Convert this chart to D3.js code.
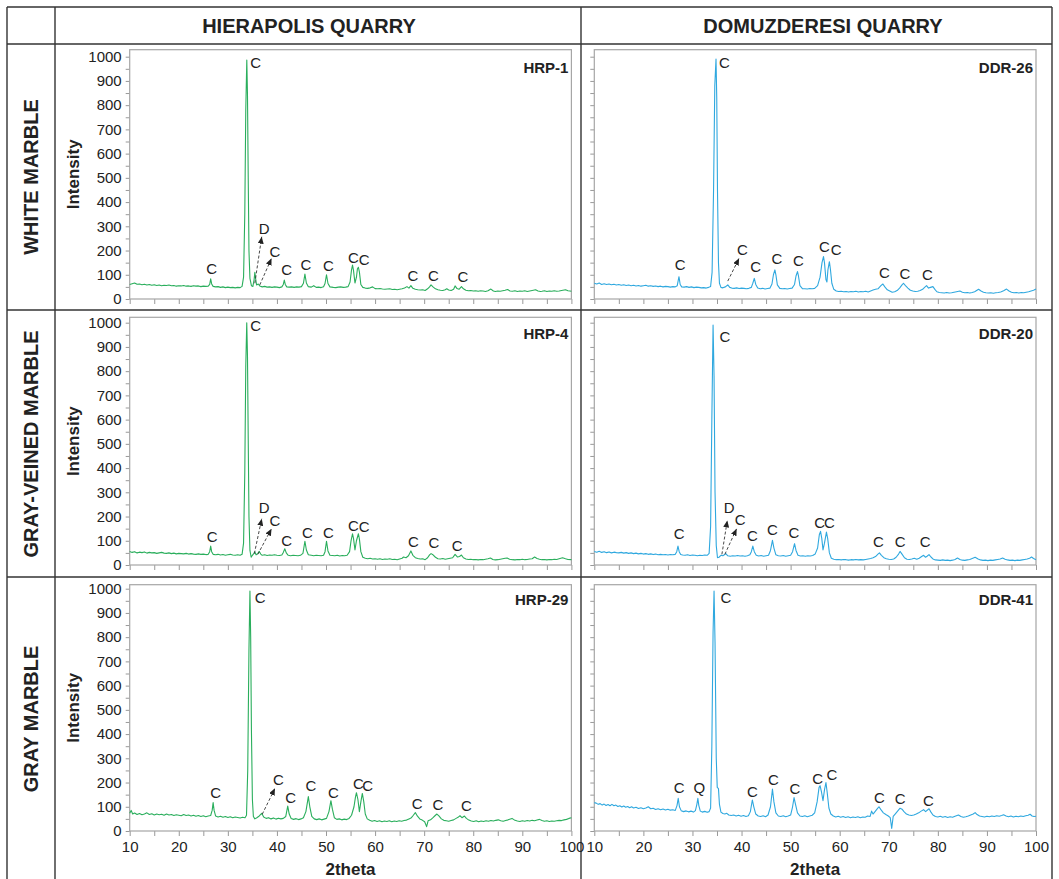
<!DOCTYPE html>
<html><head><meta charset="utf-8">
<script src="https://cdn.jsdelivr.net/npm/d3@7"></script>
<style>
html,body{margin:0;padding:0;background:#fff;}
svg{display:block;font-family:"Liberation Sans",Arial,sans-serif;}
</style></head>
<body><svg id="chart" width="1059" height="879"></svg>
<script>
// ---------- DATA ----------
const quarries = ["HIERAPOLIS QUARRY", "DOMUZDERESI QUARRY"];
const marbleTypes = ["WHITE MARBLE", "GRAY-VEINED MARBLE", "GRAY MARBLE"];
const sampleIds = [["HRP-1","DDR-26"],["HRP-4","DDR-20"],["HRP-29","DDR-41"]];
const yTicks = [0,50,100,150,200,250,300,350,400,450,500,550,600,650,700,750,800,850,900,950,1000];
const xTicks = [10,15,20,25,30,35,40,45,50,55,60,65,70,75,80,85,90,95,100];
const xTitle = "2theta", yTitle = "Intensity";

const hrp1 = [[10,60],[10.5,63],[11,66],[11.5,61],[12,62],[12.5,59],[13,61],[13.5,58],[14,60],[14.5,57],[15,59],[15.5,56],[16,58],[16.5,55],[17,57],[17.5,56],[18,58],[18.5,55],[19,56],[19.5,53],[20,55],[20.5,54],[21,56],[21.5,53],[22,54],[22.5,52],[23,55],[23.5,53],[24,54],[24.5,51],[25,53],[25.5,52],[26,53],[26.3,60],[26.5,83],[26.7,62],[27,52],[27.5,50],[28,51],[28.5,48],[29,50],[29.5,47],[30,49],[30.5,47],[31,48],[31.5,46],[32,48],[32.5,47],[32.9,52],[33.2,90],[33.45,350],[33.65,780],[33.86,986],[34.0,840],[34.15,500],[34.3,200],[34.5,85],[34.8,55],[35.1,52],[35.35,80],[35.5,110],[35.65,85],[35.85,58],[36.2,62],[36.5,54],[37,50],[37.5,52],[38,49],[38.5,50],[39,48],[39.5,50],[40,49],[40.5,47],[41,50],[41.3,60],[41.5,78],[41.7,60],[42,50],[42.5,49],[43,50],[43.5,48],[44,50],[44.5,49],[45,51],[45.4,65],[45.7,103],[46.0,66],[46.4,51],[47,49],[47.5,55],[48,48],[48.5,49],[49,47],[49.5,51],[49.8,64],[50.1,100],[50.4,64],[50.8,50],[51.5,48],[52,47],[52.5,49],[53,50],[53.5,48],[54,49],[54.5,51],[54.9,70],[55.2,120],[55.4,140],[55.6,118],[55.9,66],[56.2,90],[56.4,125],[56.6,131],[56.8,112],[57.1,60],[57.5,48],[58,45],[58.5,44],[59,46],[59.5,50],[60,43],[60.5,42],[61,43],[61.5,41],[62,40],[62.5,41],[63,42],[63.5,39],[64,40],[64.5,38],[65,40],[65.5,42],[66,45],[66.5,51],[66.9,45],[67.3,55],[67.7,44],[68.2,40],[68.7,38],[69.2,37],[69.7,38],[70.2,35],[70.7,42],[71.1,50],[71.4,58],[71.8,50],[72.3,42],[72.8,38],[73.3,36],[73.8,35],[74.3,38],[74.6,42],[75,37],[75.5,35],[76,40],[76.3,54],[76.7,43],[77.1,40],[77.6,51],[78,42],[78.5,36],[79,34],[79.5,35],[80,33],[80.5,34],[81,32],[81.5,34],[82,33],[82.5,31],[83,34],[83.6,41],[84.1,33],[84.5,31],[85,33],[85.5,32],[86,34],[86.5,36],[87,39],[87.5,33],[88,32],[88.5,34],[89,31],[89.5,33],[90,32],[90.5,34],[91,31],[91.5,33],[92,35],[92.7,38],[93.2,33],[93.7,31],[94,32],[94.5,34],[95,31],[95.5,33],[96,32],[96.5,34],[97,32],[97.5,33],[98,35],[98.8,38],[99.3,34],[99.7,33],[100,32]];

const hrp4 = [[10,56],[10.5,52],[11,55],[11.5,50],[12,53],[12.5,51],[13,54],[13.5,49],[14,52],[14.5,50],[15,51],[15.5,48],[16,50],[16.5,52],[17,49],[17.5,48],[18,50],[18.5,47],[19,49],[19.5,46],[20,48],[20.5,47],[21,46],[21.5,48],[22,45],[22.5,47],[23,45],[23.5,44],[24,46],[24.5,44],[25,45],[25.5,43],[26,44],[26.3,55],[26.5,78],[26.7,55],[27,44],[27.5,42],[28,44],[28.5,41],[29,43],[29.5,40],[30,42],[30.5,44],[31,41],[31.5,40],[32,42],[32.5,40],[32.9,44],[33.2,90],[33.45,380],[33.65,820],[33.85,1000],[34.0,860],[34.15,520],[34.3,200],[34.5,60],[34.75,32],[35.0,40],[35.3,48],[35.5,54],[35.75,42],[36.1,47],[36.4,56],[36.7,45],[37,40],[37.5,42],[38,39],[38.5,41],[39,40],[39.5,42],[40,40],[40.5,39],[41,41],[41.3,52],[41.6,67],[41.9,50],[42.3,40],[42.8,38],[43.3,40],[43.8,39],[44.3,38],[44.8,40],[45.3,48],[45.7,98],[46.0,62],[46.4,42],[47,40],[47.5,38],[48,40],[48.5,39],[49,38],[49.5,40],[49.8,55],[50.1,98],[50.4,58],[50.8,40],[51.3,39],[51.8,38],[52.3,40],[52.8,37],[53.3,39],[53.8,38],[54.3,40],[54.8,55],[55.1,100],[55.4,129],[55.6,110],[55.9,62],[56.2,100],[56.6,129],[56.8,108],[57.1,55],[57.5,32],[58,28],[58.5,26],[59,28],[59.5,25],[60,26],[60.5,24],[61,26],[61.5,23],[62,25],[62.5,24],[63,26],[63.5,23],[64,24],[64.5,22],[65,25],[65.5,28],[65.8,33],[66.3,30],[66.8,38],[67.3,58],[67.7,40],[68.2,30],[68.7,27],[69.2,25],[69.7,26],[70.2,22],[70.7,30],[71.1,42],[71.4,47],[71.8,42],[72.3,32],[72.8,26],[73.3,25],[73.8,27],[74.3,24],[74.8,26],[75.3,28],[75.8,30],[76.3,44],[76.8,33],[77.2,35],[77.6,41],[78,30],[78.5,25],[79,23],[79.5,24],[80,22],[80.5,23],[81,21],[81.5,23],[82,22],[82.5,24],[83,26],[83.5,29],[84,23],[84.5,21],[85,22],[85.5,24],[86,26],[86.5,28],[86.9,29],[87.4,24],[88,22],[88.5,21],[89,23],[89.5,22],[90,24],[90.5,22],[91,23],[91.5,25],[92,26],[92.5,33],[93,27],[93.5,24],[94,22],[94.5,23],[95,21],[95.5,23],[96,22],[96.5,24],[97,23],[97.5,26],[98.2,30],[98.8,26],[99.3,23],[100,22]];

const hrp29 = [[10,73],[10.3,85],[10.6,70],[11,74],[11.5,68],[12,72],[12.5,67],[13,70],[13.5,75],[14,68],[14.5,71],[15,66],[15.5,70],[16,67],[16.5,69],[17,65],[17.5,70],[18,66],[18.5,68],[19,64],[19.5,67],[20,65],[20.5,63],[21,68],[21.5,64],[22,66],[22.5,62],[23,65],[23.5,61],[24,64],[24.5,60],[25,63],[25.5,59],[26,62],[26.5,64],[26.8,85],[27.0,117],[27.2,85],[27.5,62],[28,58],[28.5,61],[29,57],[29.5,60],[30,56],[30.5,59],[31,55],[31.5,58],[32,56],[32.5,54],[33,57],[33.5,55],[33.8,65],[34.05,250],[34.3,750],[34.5,990],[34.65,800],[34.8,420],[35.0,130],[35.2,60],[35.5,50],[35.9,55],[36.4,62],[36.9,73],[37.3,58],[37.8,52],[38.3,55],[38.8,50],[39.3,54],[39.8,49],[40.3,53],[40.8,50],[41.3,52],[41.8,60],[42.2,103],[42.5,70],[42.9,52],[43.4,48],[43.9,51],[44.4,47],[44.9,50],[45.4,55],[45.9,80],[46.4,142],[46.7,100],[47.1,60],[47.6,50],[48.1,47],[48.6,50],[49.1,46],[49.6,49],[50.1,52],[50.6,80],[51.0,125],[51.3,90],[51.7,55],[52.2,48],[52.7,50],[53.2,46],[53.7,49],[54.2,47],[54.7,52],[55.2,65],[55.7,100],[56.0,140],[56.2,158],[56.5,130],[56.8,80],[57.1,120],[57.4,155],[57.7,120],[58,70],[58.4,50],[58.9,44],[59.4,40],[59.9,43],[60.4,39],[60.9,42],[61.4,38],[61.9,41],[62.4,39],[62.9,42],[63.4,38],[63.9,41],[64.4,39],[64.9,42],[65.4,40],[65.9,43],[66.4,45],[66.9,50],[67.4,55],[67.8,65],[68.2,76],[68.6,62],[69.1,50],[69.6,45],[70.1,38],[70.5,18],[70.8,42],[71.3,46],[71.8,55],[72.3,65],[72.6,70],[73.0,62],[73.5,50],[74,44],[74.5,42],[75,40],[75.5,43],[76,46],[76.5,52],[77.0,58],[77.3,63],[77.7,55],[78.2,62],[78.6,52],[79.1,45],[79.6,41],[80.1,39],[80.6,42],[81.1,38],[81.6,41],[82.1,39],[82.6,42],[83.1,40],[83.6,43],[84.1,41],[84.6,44],[85.1,46],[85.6,42],[86.1,40],[86.6,43],[87.1,46],[87.9,52],[88.5,44],[89,41],[89.5,39],[90,42],[90.5,40],[91,43],[91.5,41],[92,44],[92.5,42],[93,45],[93.5,48],[94,43],[94.5,40],[95,42],[95.5,39],[96,41],[96.5,40],[97,42],[97.5,44],[98,43],[98.5,46],[99,48],[99.5,52],[100,55]];

const ddr26 = [[10,65],[10.5,62],[11,66],[11.5,60],[12,63],[12.5,60],[13,62],[13.5,59],[14,61],[14.5,58],[15,60],[15.5,57],[16,59],[16.5,56],[17,58],[17.5,55],[18,57],[18.5,54],[19,56],[19.5,53],[20,55],[20.5,57],[21,53],[21.5,55],[22,52],[22.5,54],[23,51],[23.5,53],[24,50],[24.5,52],[25,51],[25.5,49],[26,51],[26.5,50],[26.9,55],[27.25,92],[27.5,60],[27.8,50],[28.3,49],[28.8,51],[29.3,48],[29.8,50],[30.3,47],[30.8,49],[31.3,48],[31.8,46],[32.3,47],[32.8,45],[33.3,48],[33.7,52],[34.0,110],[34.3,450],[34.55,880],[34.8,990],[34.95,830],[35.1,450],[35.3,150],[35.5,65],[35.8,48],[36.2,46],[36.7,50],[37.2,58],[37.6,48],[38,45],[38.5,44],[39,46],[39.5,43],[40,45],[40.5,44],[41,42],[41.5,44],[42,48],[42.3,65],[42.6,85],[42.9,60],[43.3,45],[43.8,42],[44.3,44],[44.8,41],[45.3,43],[45.8,45],[46.2,62],[46.5,100],[46.8,120],[47.0,100],[47.3,58],[47.8,44],[48.3,42],[48.8,43],[49.3,41],[49.8,43],[50.3,45],[50.8,60],[51.1,95],[51.4,113],[51.6,95],[51.9,55],[52.4,43],[52.9,42],[53.4,41],[53.9,43],[54.4,42],[54.9,44],[55.5,55],[56.0,90],[56.4,150],[56.7,175],[56.9,150],[57.2,80],[57.4,70],[57.6,120],[57.9,154],[58.1,125],[58.4,65],[58.8,40],[59.3,33],[59.8,31],[60.3,32],[60.8,30],[61.3,31],[61.8,29],[62.3,31],[62.8,30],[63.3,32],[63.8,29],[64.3,31],[64.8,30],[65.3,32],[65.8,29],[66.3,33],[66.8,37],[67.3,40],[67.8,42],[68.4,55],[68.8,62],[69.2,50],[69.7,38],[70.2,33],[70.7,28],[71.2,30],[71.7,35],[72.2,45],[72.7,58],[73.0,65],[73.4,55],[73.9,45],[74.4,36],[74.9,33],[75.4,31],[75.9,32],[76.4,35],[76.9,40],[77.3,48],[77.7,55],[78.1,45],[78.5,48],[79.0,51],[79.4,40],[79.8,30],[80.3,27],[80.8,26],[81.3,25],[81.8,27],[82.3,25],[82.8,26],[83.3,28],[83.8,30],[84.5,33],[85,28],[85.5,26],[86,27],[86.5,25],[87,27],[87.5,30],[88.3,40],[88.8,33],[89.3,28],[89.8,26],[90.3,25],[90.8,26],[91.3,24],[91.8,26],[92.3,27],[92.8,29],[93.4,34],[94,41],[94.5,33],[95,28],[95.5,26],[96,27],[96.5,25],[97,27],[97.5,26],[98,28],[98.5,30],[99,33],[99.5,36],[100,41]];

const ddr20 = [[10,56],[10.5,53],[11,57],[11.5,52],[12,55],[12.5,51],[13,54],[13.5,50],[14,53],[14.5,51],[15,50],[15.5,52],[16,49],[16.5,51],[17,48],[17.5,50],[18,47],[18.5,49],[19,46],[19.5,48],[20,45],[20.5,47],[21,44],[21.5,46],[22,43],[22.5,45],[23,42],[23.5,44],[24,42],[24.5,43],[25,41],[25.5,43],[26,42],[26.5,44],[26.8,55],[27.05,78],[27.3,55],[27.6,43],[28,41],[28.5,40],[29,42],[29.5,39],[30,41],[30.5,40],[31,38],[31.5,40],[32,39],[32.5,41],[33,40],[33.4,48],[33.7,160],[33.95,600],[34.2,990],[34.4,780],[34.6,300],[34.85,80],[35.1,30],[35.4,32],[35.8,40],[36.2,38],[36.5,42],[36.8,47],[37.2,38],[37.7,36],[38.2,38],[38.7,37],[39.2,39],[39.7,37],[40.2,38],[40.7,36],[41.2,38],[41.7,42],[42.0,55],[42.3,78],[42.6,55],[43,40],[43.5,37],[44,39],[44.5,36],[45,38],[45.5,40],[45.9,60],[46.3,102],[46.6,70],[47,42],[47.5,38],[48,37],[48.5,39],[49,36],[49.5,38],[50,40],[50.4,55],[50.8,88],[51.1,60],[51.5,40],[52,37],[52.5,38],[53,36],[53.5,38],[54,37],[54.5,39],[55,45],[55.5,70],[55.85,125],[56.1,139],[56.35,110],[56.6,62],[56.9,90],[57.3,136],[57.55,110],[57.9,50],[58.3,28],[58.8,24],[59.3,22],[59.8,23],[60.3,21],[60.8,23],[61.3,22],[61.8,20],[62.3,22],[62.8,21],[63.3,23],[63.8,21],[64.3,22],[64.8,21],[65.3,23],[65.8,25],[66.3,27],[66.8,30],[67.3,35],[67.8,45],[68.1,50],[68.5,40],[69,30],[69.5,26],[70,24],[70.5,23],[71,25],[71.5,32],[72,45],[72.3,56],[72.7,45],[73.2,30],[73.7,24],[74.2,23],[74.7,25],[75.2,28],[75.7,24],[76.2,28],[76.7,35],[77.1,40],[77.5,32],[77.8,36],[78.2,43],[78.6,33],[79,25],[79.5,21],[80,20],[80.5,19],[81,21],[81.5,19],[82,20],[82.5,18],[83,20],[83.5,23],[84,29],[84.5,23],[85,20],[85.5,19],[86,21],[86.5,23],[87,27],[87.6,32],[88.2,25],[88.7,21],[89.2,19],[89.7,20],[90.2,18],[90.7,20],[91.2,19],[91.7,21],[92.2,23],[92.7,25],[93.2,29],[93.7,24],[94.2,21],[94.7,19],[95.2,20],[95.7,18],[96.2,20],[96.7,19],[97.2,21],[97.7,23],[98.2,25],[98.7,28],[99.1,33],[99.5,27],[100,22]];

const ddr41 = [[10,117],[10.4,115],[10.8,110],[11.2,113],[11.6,107],[12,111],[12.4,105],[12.8,109],[13.2,104],[13.6,110],[14,104],[14.4,107],[14.8,101],[15.2,104],[15.6,99],[16,103],[16.4,98],[16.8,101],[17.2,96],[17.6,100],[18,95],[18.5,98],[19,93],[19.5,96],[20,92],[20.5,95],[21,100],[21.5,92],[22,94],[22.5,89],[23,92],[23.5,88],[24,91],[24.5,87],[25,90],[25.5,86],[26,88],[26.5,85],[26.85,105],[27.1,135],[27.35,100],[27.7,84],[28.2,80],[28.7,83],[29.2,79],[29.7,82],[30.2,78],[30.6,84],[30.9,110],[31.1,135],[31.3,105],[31.6,82],[32,78],[32.5,81],[33,77],[33.4,80],[33.7,95],[33.95,350],[34.2,820],[34.4,990],[34.6,780],[34.85,300],[35.05,180],[35.3,175],[35.5,110],[35.8,78],[36.2,72],[36.6,70],[37,73],[37.4,66],[37.9,64],[38.4,66],[38.9,62],[39.4,65],[39.9,61],[40.4,64],[40.9,60],[41.4,63],[41.8,80],[42.2,128],[42.5,100],[42.9,70],[43.4,62],[43.9,60],[44.4,63],[44.9,59],[45.4,66],[45.9,100],[46.3,173],[46.6,120],[47,75],[47.5,62],[48,60],[48.5,63],[49,59],[49.5,62],[50,66],[50.4,100],[50.7,138],[51,110],[51.4,75],[51.9,62],[52.4,60],[52.9,63],[53.4,59],[53.9,62],[54.4,65],[54.9,75],[55.4,120],[55.8,180],[56.0,187],[56.3,160],[56.6,125],[56.9,170],[57.2,200],[57.45,160],[57.8,95],[58.2,70],[58.7,62],[59.2,58],[59.7,61],[60.2,57],[60.7,60],[61.2,56],[61.7,59],[62.2,55],[62.7,58],[63.2,56],[63.7,59],[64.2,55],[64.7,58],[65.2,57],[65.7,62],[66.2,60],[66.5,82],[66.8,70],[67.2,80],[67.6,90],[68.0,100],[68.4,88],[68.9,75],[69.4,68],[69.9,62],[70.3,55],[70.6,11],[70.9,60],[71.3,70],[71.8,82],[72.3,94],[72.7,90],[73.1,80],[73.6,70],[74.1,66],[74.6,64],[75.1,66],[75.6,70],[76.1,75],[76.6,82],[77.1,88],[77.5,80],[78.2,92],[78.6,78],[79,66],[79.5,60],[80,58],[80.5,61],[81,57],[81.5,60],[82,56],[82.5,59],[83,57],[83.5,61],[84.2,66],[84.7,60],[85.2,57],[85.7,59],[86.2,62],[86.7,66],[87.2,70],[87.6,76],[88,68],[88.5,62],[89,60],[89.5,58],[90,61],[90.5,59],[91,62],[91.5,60],[92,63],[92.5,61],[93,64],[93.4,67],[93.9,62],[94.4,59],[94.9,62],[95.4,58],[95.9,61],[96.4,59],[96.9,62],[97.4,60],[97.9,63],[98.4,65],[98.8,69],[99.2,62],[99.6,60],[100,61]];

// peak labels: [2theta, intensity, text]
const hrp1Labels = [[26.7,127,"C"],[35.65,977,"C"],[37.4,292,"D"],[39.6,195,"C"],[42.0,120,"C"],[45.9,143,"C"],[50.5,138,"C"],[55.6,171,"C"],[57.8,161,"C"],[67.7,99,"C"],[71.9,96,"C"],[77.9,92,"C"]];
const hrp4Labels = [[26.8,116,"C"],[35.65,988,"C"],[37.4,239,"D"],[39.6,184,"C"],[42.0,102,"C"],[46.2,136,"C"],[50.5,136,"C"],[55.6,164,"C"],[57.8,160,"C"],[67.8,98,"C"],[72.0,92,"C"],[76.7,81,"C"]];
const hrp29Labels = [[27.5,158,"C"],[36.6,963,"C"],[40.3,213,"C"],[42.8,139,"C"],[46.9,186,"C"],[51.5,158,"C"],[56.6,197,"C"],[58.5,186,"C"],[68.6,114,"C"],[72.8,110,"C"],[78.6,105,"C"]];
const ddr26Labels = [[27.5,144,"C"],[36.5,977,"C"],[40.2,205,"C"],[42.9,133,"C"],[47.2,168,"C"],[51.6,157,"C"],[56.9,216,"C"],[59.3,206,"C"],[69.1,109,"C"],[73.3,106,"C"],[77.9,102,"C"]];
const ddr20Labels = [[27.3,129,"C"],[36.6,945,"C"],[37.5,239,"D"],[39.7,187,"C"],[42.2,122,"C"],[46.3,146,"C"],[50.7,133,"C"],[55.9,177,"C"],[57.9,177,"C"],[67.9,99,"C"],[72.3,99,"C"],[77.4,99,"C"]];
const ddr41Labels = [[27.3,180,"C"],[31.4,180,"Q"],[36.8,964,"C"],[42.2,162,"C"],[46.5,213,"C"],[50.9,176,"C"],[55.5,217,"C"],[58.4,235,"C"]];
const ddr41LabelsTail = [[68.1,138,"C"],[72.3,135,"C"],[78.1,125,"C"]];

// dashed arrows: [x1, y1, x2, y2] in data units
const hrp1Arrows = [[35.5,65,36.9,257],[36.5,58,38.9,168]];
const hrp4Arrows = [[35.4,47,36.9,191],[36.1,44,38.9,150]];
const hrp29Arrows = [[37.0,69,39.6,176]];
const ddr26Arrows = [[37.2,74,39.5,168]];
const ddr20Arrows = [[36.0,44,37.1,184],[36.6,44,39.0,150]];
const ddr41Arrows = [];

// ---------- LAYOUT ----------
const GREEN = "#2aae5c", BLUE = "#2fa8df";
const colX = [[129.7,571.4],[594.3,1036]];
const rowZero = [299, 565, 831];
const rowTop = [49.7, 317.3, 584.7];
const px1000 = 242.3;

const panels = [
  {r:0,c:0,data:hrp1,labels:hrp1Labels,arrows:hrp1Arrows,color:GREEN},
  {r:0,c:1,data:ddr26,labels:ddr26Labels,arrows:ddr26Arrows,color:BLUE},
  {r:1,c:0,data:hrp4,labels:hrp4Labels,arrows:hrp4Arrows,color:GREEN},
  {r:1,c:1,data:ddr20,labels:ddr20Labels,arrows:ddr20Arrows,color:BLUE},
  {r:2,c:0,data:hrp29,labels:hrp29Labels,arrows:hrp29Arrows,color:GREEN},
  {r:2,c:1,data:ddr41,labels:ddr41Labels.concat(ddr41LabelsTail),arrows:ddr41Arrows,color:BLUE}
];

const svg = d3.select("#chart");
const defs = svg.append("defs");
defs.append("marker").attr("id","ah").attr("viewBox","0 -3 7 6")
  .attr("refX",7).attr("refY",0).attr("markerWidth",7).attr("markerHeight",6)
  .attr("markerUnits","userSpaceOnUse").attr("orient","auto")
  .append("path").attr("d","M0,-3L7,0L0,3Z").attr("fill","#222");

// table grid
const grid = svg.append("g").attr("stroke","#333").attr("stroke-width",1.4).attr("fill","none");
[7,55,581,1052].forEach(x=>grid.append("line").attr("x1",x).attr("x2",x).attr("y1",7).attr("y2",879));
[7,44,310,577].forEach(y=>grid.append("line").attr("x1",7).attr("x2",1052).attr("y1",y).attr("y2",y));

// headers
const headX = [309, 823];
quarries.forEach((q,i)=>svg.append("text").attr("x",headX[i]).attr("y",33)
  .attr("text-anchor","middle").attr("font-size",20).attr("font-weight","bold").attr("fill","#222").text(q));
const rowLabelY = [177, 444, 719];
marbleTypes.forEach((m,i)=>svg.append("text")
  .attr("transform",`translate(38,${rowLabelY[i]}) rotate(-90)`)
  .attr("text-anchor","middle").attr("font-size",20).attr("font-weight","bold").attr("fill","#222").text(m));

panels.forEach(p=>{
  const [x0,x1] = colX[p.c];
  const zero = rowZero[p.r], top = rowTop[p.r];
  const x = d3.scaleLinear().domain([10,100]).range([x0,x1]);
  const y = d3.scaleLinear().domain([0,1000]).range([zero, zero-px1000]);
  const g = svg.append("g");

  // y axis
  const ya = g.append("g").attr("transform",`translate(${x0},0)`)
    .call(d3.axisLeft(y).tickValues(yTicks).tickSize(4).tickPadding(4)
      .tickFormat(d => (p.c===0 && d%100===0) ? d : ""));
  ya.select(".domain").remove();
  ya.selectAll(".tick line").attr("stroke","#999");
  ya.selectAll(".tick text").attr("font-size",15).attr("fill","#222")
    .attr("font-family","Liberation Sans, Arial, sans-serif");

  // x axis
  const xa = g.append("g").attr("transform",`translate(0,${zero})`)
    .call(d3.axisBottom(x).tickValues(xTicks).tickSize(5).tickPadding(5)
      .tickFormat(d => (p.r===2 && d%10===0) ? d : ""));
  xa.select(".domain").remove();
  xa.selectAll(".tick line").attr("stroke","#999");
  xa.selectAll(".tick text").attr("font-size",15).attr("fill","#222")
    .attr("font-family","Liberation Sans, Arial, sans-serif");

  // frame
  g.append("rect").attr("x",x0).attr("y",top).attr("width",x1-x0).attr("height",zero-top)
    .attr("fill","none").attr("stroke","#a6a6a6").attr("stroke-width",1.2);

  // trace
  g.append("path").datum(p.data)
    .attr("d", d3.line().x(d=>x(d[0])).y(d=>y(d[1])))
    .attr("fill","none").attr("stroke",p.color).attr("stroke-width",1.1).attr("stroke-linejoin","round");

  // arrows
  p.arrows.forEach(a=>g.append("line")
    .attr("x1",x(a[0])).attr("y1",y(a[1])).attr("x2",x(a[2])).attr("y2",y(a[3]))
    .attr("stroke","#333").attr("stroke-width",0.9).attr("stroke-dasharray","3,2")
    .attr("marker-end","url(#ah)"));

  // peak labels
  p.labels.forEach(l=>g.append("text").attr("x",x(l[0])).attr("y",y(l[1])+5.5)
    .attr("text-anchor","middle").attr("font-size",15).attr("fill","#222").text(l[2]));

  // sample id
  g.append("text").attr("x",x1-3).attr("y",y(957)+5.5).attr("text-anchor","end")
    .attr("font-size",15).attr("font-weight","bold").attr("fill","#222").text(sampleIds[p.r][p.c]);

  // axis titles
  if (p.c===0) g.append("text").attr("transform",`translate(${79},${(top+zero)/2}) rotate(-90)`)
    .attr("text-anchor","middle").attr("font-size",17).attr("font-weight","bold").attr("fill","#222").text(yTitle);
  if (p.r===2) g.append("text").attr("x",(x0+x1)/2).attr("y",875)
    .attr("text-anchor","middle").attr("font-size",17).attr("font-weight","bold").attr("fill","#222").text(xTitle);
});
</script></body></html>
